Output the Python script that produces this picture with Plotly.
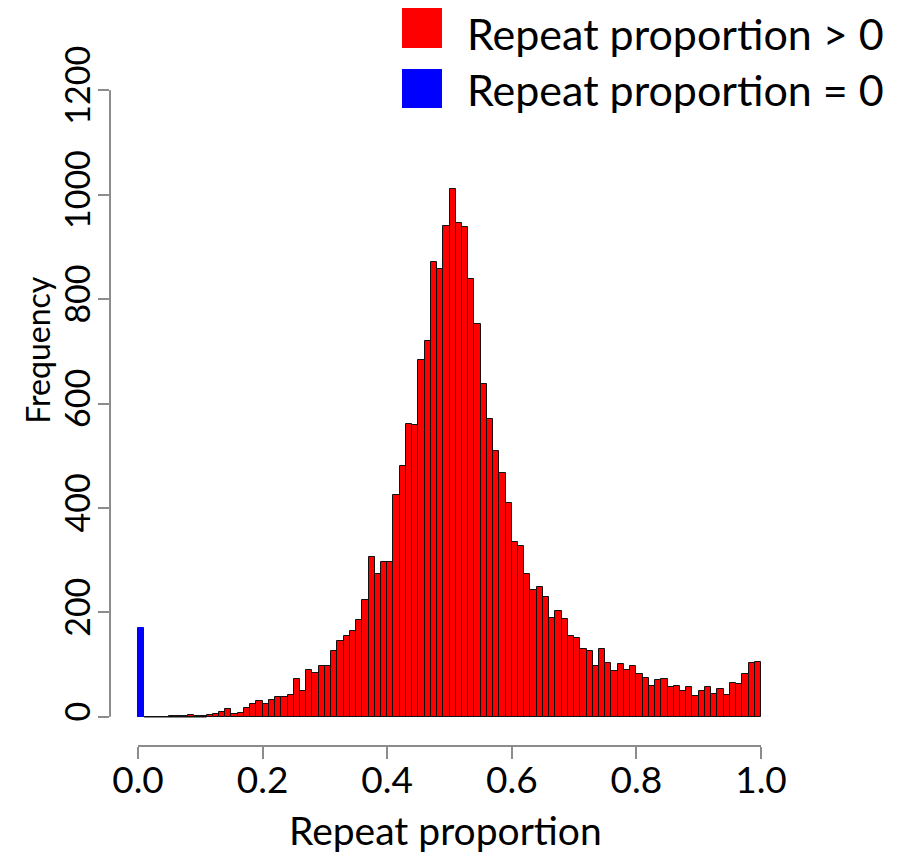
import numpy as np
import plotly.graph_objects as go

# Histogram bins: 100 bins of width 0.01 from 0.0 to 1.0
bin_width = 0.01
bin_starts = np.round(np.arange(0, 100) * bin_width, 2)

# Frequency of regions with repeat proportion > 0 (red)
red_counts = [
    0, 0, 0, 0, 0, 1, 1, 1, 3, 1,
    2, 4, 6, 9, 14, 6, 8, 17, 25, 31,
    25, 33, 38, 37, 41, 73, 50, 89, 83, 97,
    97, 126, 146, 155, 164, 186, 224, 306, 273, 297,
    297, 424, 481, 561, 558, 683, 720, 871, 858, 940,
    1011, 946, 939, 838, 752, 637, 570, 509, 466, 410,
    335, 327, 273, 243, 248, 230, 190, 202, 187, 155,
    151, 129, 126, 98, 129, 103, 87, 101, 89, 98,
    81, 75, 59, 70, 73, 57, 58, 50, 57, 40,
    50, 57, 43, 53, 42, 64, 62, 82, 103, 105,
]

# Frequency of regions with repeat proportion = 0 (blue), first bin only
blue_bin = [0.0]
blue_counts = [170]

y_tick_vals = [0, 200, 400, 600, 800, 1000, 1200]
y_tick_text = ["0", "200", "400", "600", "800", "1000", "1200"]
x_tick_vals = [0.0, 0.2, 0.4, 0.6, 0.8, 1.0]
x_tick_text = ["0.0", "0.2", "0.4", "0.6", "0.8", "1.0"]

legend_labels = ["Repeat proportion > 0", "Repeat proportion = 0"]
legend_colors = ["#ff0000", "#0000ff"]

FONT = "Lato"
AXIS_GRAY = "#8c8c8c"

fig = go.Figure()
fig.add_trace(go.Bar(
    x=bin_starts, y=red_counts, width=bin_width, offset=0,
    marker=dict(color="#ff0000", line=dict(color="#111111", width=1)),
    showlegend=False, name=legend_labels[0],
))
fig.add_trace(go.Bar(
    x=blue_bin, y=blue_counts, width=bin_width, offset=0,
    marker=dict(color="#0000ff", line=dict(color="#0000ff", width=1)),
    showlegend=False, name=legend_labels[1],
))

# R-style detached axis lines spanning only the tick range
fig.add_shape(type="line", xref="x", yref="paper",
              x0=x_tick_vals[0], x1=x_tick_vals[-1], y0=0, y1=0,
              line=dict(color=AXIS_GRAY, width=2))
fig.add_shape(type="line", xref="paper", yref="y",
              x0=0, x1=0, y0=y_tick_vals[0], y1=y_tick_vals[-1],
              line=dict(color=AXIS_GRAY, width=2))
# outline of the empty low bins along the baseline
fig.add_shape(type="line", xref="x", yref="y",
              x0=bin_starts[1], x1=bin_starts[11], y0=0, y1=0,
              line=dict(color="#111111", width=1.5))

# Legend drawn as boxes + text
legend_box_y = [(1.048, 1.1081), (0.958, 1.0165)]
legend_text_y = [1.0691, 0.9850]
for lab, col, (y0, y1), ty in zip(legend_labels, legend_colors, legend_box_y, legend_text_y):
    fig.add_shape(type="rect", xref="paper", yref="paper",
                  x0=0.4358, x1=0.4955, y0=y0, y1=y1,
                  fillcolor=col, line=dict(width=0))
    fig.add_annotation(xref="paper", yref="paper", x=0.5299, y=ty,
                       xanchor="left", yanchor="middle", showarrow=False,
                       text=lab, font=dict(family=FONT, size=43, color="black"))

fig.add_annotation(xref="paper", yref="paper", x=-0.108, y=0.5946,
                   xanchor="center", yanchor="middle", showarrow=False,
                   text="Frequency", textangle=-90,
                   font=dict(family=FONT, size=32, color="black"))

fig.add_annotation(xref="paper", yref="paper", x=0.5, y=-0.1261,
                   xanchor="center", yanchor="middle", showarrow=False,
                   text="Repeat proportion",
                   font=dict(family=FONT, size=39, color="black"))

fig.update_layout(
    width=906, height=859,
    margin=dict(l=102, r=134, t=72, b=121, autoexpand=False),
    paper_bgcolor="white", plot_bgcolor="white",
    bargap=0,
    barmode="overlay",
    font=dict(family=FONT, color="black"),
    xaxis=dict(
        range=[-0.04494, 1.0305], showgrid=False, zeroline=False, showline=False,
        automargin=False,
        tickmode="array", tickvals=x_tick_vals, ticktext=x_tick_text,
        ticks="outside", ticklen=12, tickwidth=2, tickcolor=AXIS_GRAY,
        ticklabelstandoff=-10,
        tickfont=dict(family=FONT, size=37, color="black"),
    ),
    yaxis=dict(
        range=[-56, 1219.7], showgrid=False, zeroline=False, showline=False,
        automargin=False,
        tickmode="array", tickvals=y_tick_vals, ticktext=y_tick_text,
        ticks="outside", ticklen=11, tickwidth=2, tickcolor=AXIS_GRAY,
        ticklabelstandoff=-6,
        tickangle=-90,
        tickfont=dict(family=FONT, size=34, color="black"),
    ),
)

fig.write_html("out.html")
